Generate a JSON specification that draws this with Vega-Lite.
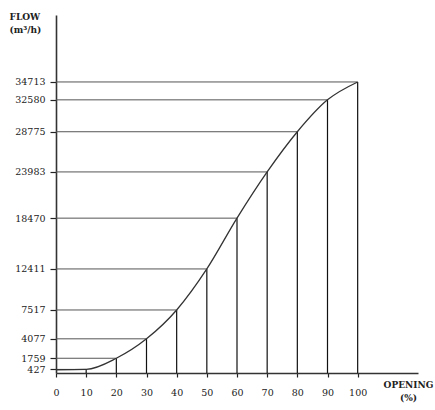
{
  "$schema": "https://vega.github.io/schema/vega-lite/v6.json",
  "width": 362,
  "height": 358,
  "autosize": {"type": "none"},
  "padding": {"left": 56, "top": 15, "right": 17, "bottom": 37},
  "background": "white",
  "config": {
    "view": {"stroke": null},
    "axis": {
      "labelFont": "DejaVu Serif",
      "labelFontSize": 9.5,
      "labelColor": "#222",
      "titleFont": "DejaVu Serif",
      "titleFontSize": 9,
      "titleFontWeight": "bold",
      "titleColor": "#222",
      "titleLineHeight": 13,
      "domainColor": "#333",
      "domainWidth": 1.6,
      "tickColor": "#222",
      "tickWidth": 1.2,
      "grid": false,
      "labelOverlap": false
    }
  },
  "data": {
    "values": [
      {"opening": 0, "flow": 390},
      {"opening": 10, "flow": 427},
      {"opening": 20, "flow": 1759},
      {"opening": 30, "flow": 4077},
      {"opening": 40, "flow": 7517},
      {"opening": 50, "flow": 12411},
      {"opening": 60, "flow": 18470},
      {"opening": 70, "flow": 23983},
      {"opening": 80, "flow": 28775},
      {"opening": 90, "flow": 32580},
      {"opening": 100, "flow": 34713}
    ]
  },
  "encoding": {
    "x": {
      "field": "opening",
      "type": "quantitative",
      "scale": {"domain": [0, 120], "nice": false, "zero": false},
      "axis": {
        "values": [0, 10, 20, 30, 40, 50, 60, 70, 80, 90, 100],
        "format": "d",
        "tickSize": 4,
        "labelPadding": 10,
        "labelFlush": false,
        "labelOverlap": false,
        "labelSeparation": 0,
        "title": ["OPENING", "(%)"],
        "titleAlign": "center",
        "titleBaseline": "top",
        "titleX": 352,
        "titleY": 7
      }
    },
    "y": {
      "field": "flow",
      "type": "quantitative",
      "scale": {"domain": [0, 42700], "nice": false, "zero": true},
      "axis": {
        "values": [427, 1759, 4077, 7517, 12411, 18470, 23983, 28775, 32580, 34713],
        "format": "d",
        "tickSize": 6,
        "labelPadding": 5,
        "labelOverlap": false,
        "labelSeparation": 0,
        "labelFlush": false,
        "title": ["FLOW", "(m³/h)"],
        "titleAngle": 0,
        "titleAlign": "left",
        "titleBaseline": "top",
        "titleX": -47,
        "titleY": -3
      }
    }
  },
  "layer": [
    {
      "transform": [{"filter": "datum.opening > 0"}],
      "mark": {"type": "rule", "color": "#555", "strokeWidth": 1},
      "encoding": {
        "x2": {"datum": 0}
      }
    },
    {
      "transform": [{"filter": "datum.opening > 0"}],
      "mark": {"type": "rule", "color": "#111", "strokeWidth": 1.2},
      "encoding": {
        "y2": {"datum": 0}
      }
    },
    {
      "mark": {"type": "line", "interpolate": "monotone", "color": "#333", "strokeWidth": 1.3}
    }
  ]
}
